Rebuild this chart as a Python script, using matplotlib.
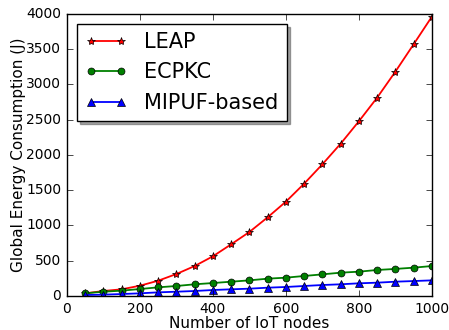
import matplotlib
matplotlib.use("Agg")
import matplotlib.pyplot as plt

plt.style.use("classic")

# number of IoT nodes
nodes = [50, 100, 150, 200, 250, 300, 350, 400, 450, 500,
         550, 600, 650, 700, 750, 800, 850, 900, 950, 1000]

# global energy consumption (J)
leap = [38, 71, 95, 146, 217, 312, 425, 563, 733, 908,
        1116, 1338, 1593, 1868, 2160, 2478, 2813, 3182, 3570, 3962]
ecpkc = [38, 61, 76, 99, 123, 142, 166, 184, 203, 222,
         246, 260, 284, 307, 331, 345, 369, 384, 402, 425]
mipuf = [14, 19, 28, 38, 52, 61, 71, 85, 95, 104,
         118, 128, 142, 156, 166, 180, 189, 203, 212, 222]

fig = plt.figure(figsize=(4.49, 3.3), dpi=100, facecolor="white")
ax = fig.add_axes([0.149, 0.103, 0.813, 0.855])

ax.plot(nodes, leap, color="r", marker="*", markersize=6, lw=1.3, label="LEAP")
ax.plot(nodes, ecpkc, color="g", marker="o", markersize=5, lw=1.3, label="ECPKC")
ax.plot(nodes, mipuf, color="b", marker="^", markersize=6, lw=1.3, label="MIPUF-based")

ax.set_xlim(0, 1000)
ax.set_ylim(0, 4000)
ax.set_xticks([0, 200, 400, 600, 800, 1000])
ax.set_yticks(range(0, 4001, 500))
ax.tick_params(labelsize=10)
ax.set_xlabel("Number of IoT nodes", fontsize=11, labelpad=0)
ax.set_ylabel("Global Energy Consumption (J)", fontsize=11, labelpad=0.5)

ax.legend(loc="upper left", bbox_to_anchor=(0.027, 0.965), borderaxespad=0,
          fontsize=15, shadow=True, numpoints=2, handlelength=2.0,
          handletextpad=0.85)

fig.savefig("out.png", dpi=100, facecolor="white")
